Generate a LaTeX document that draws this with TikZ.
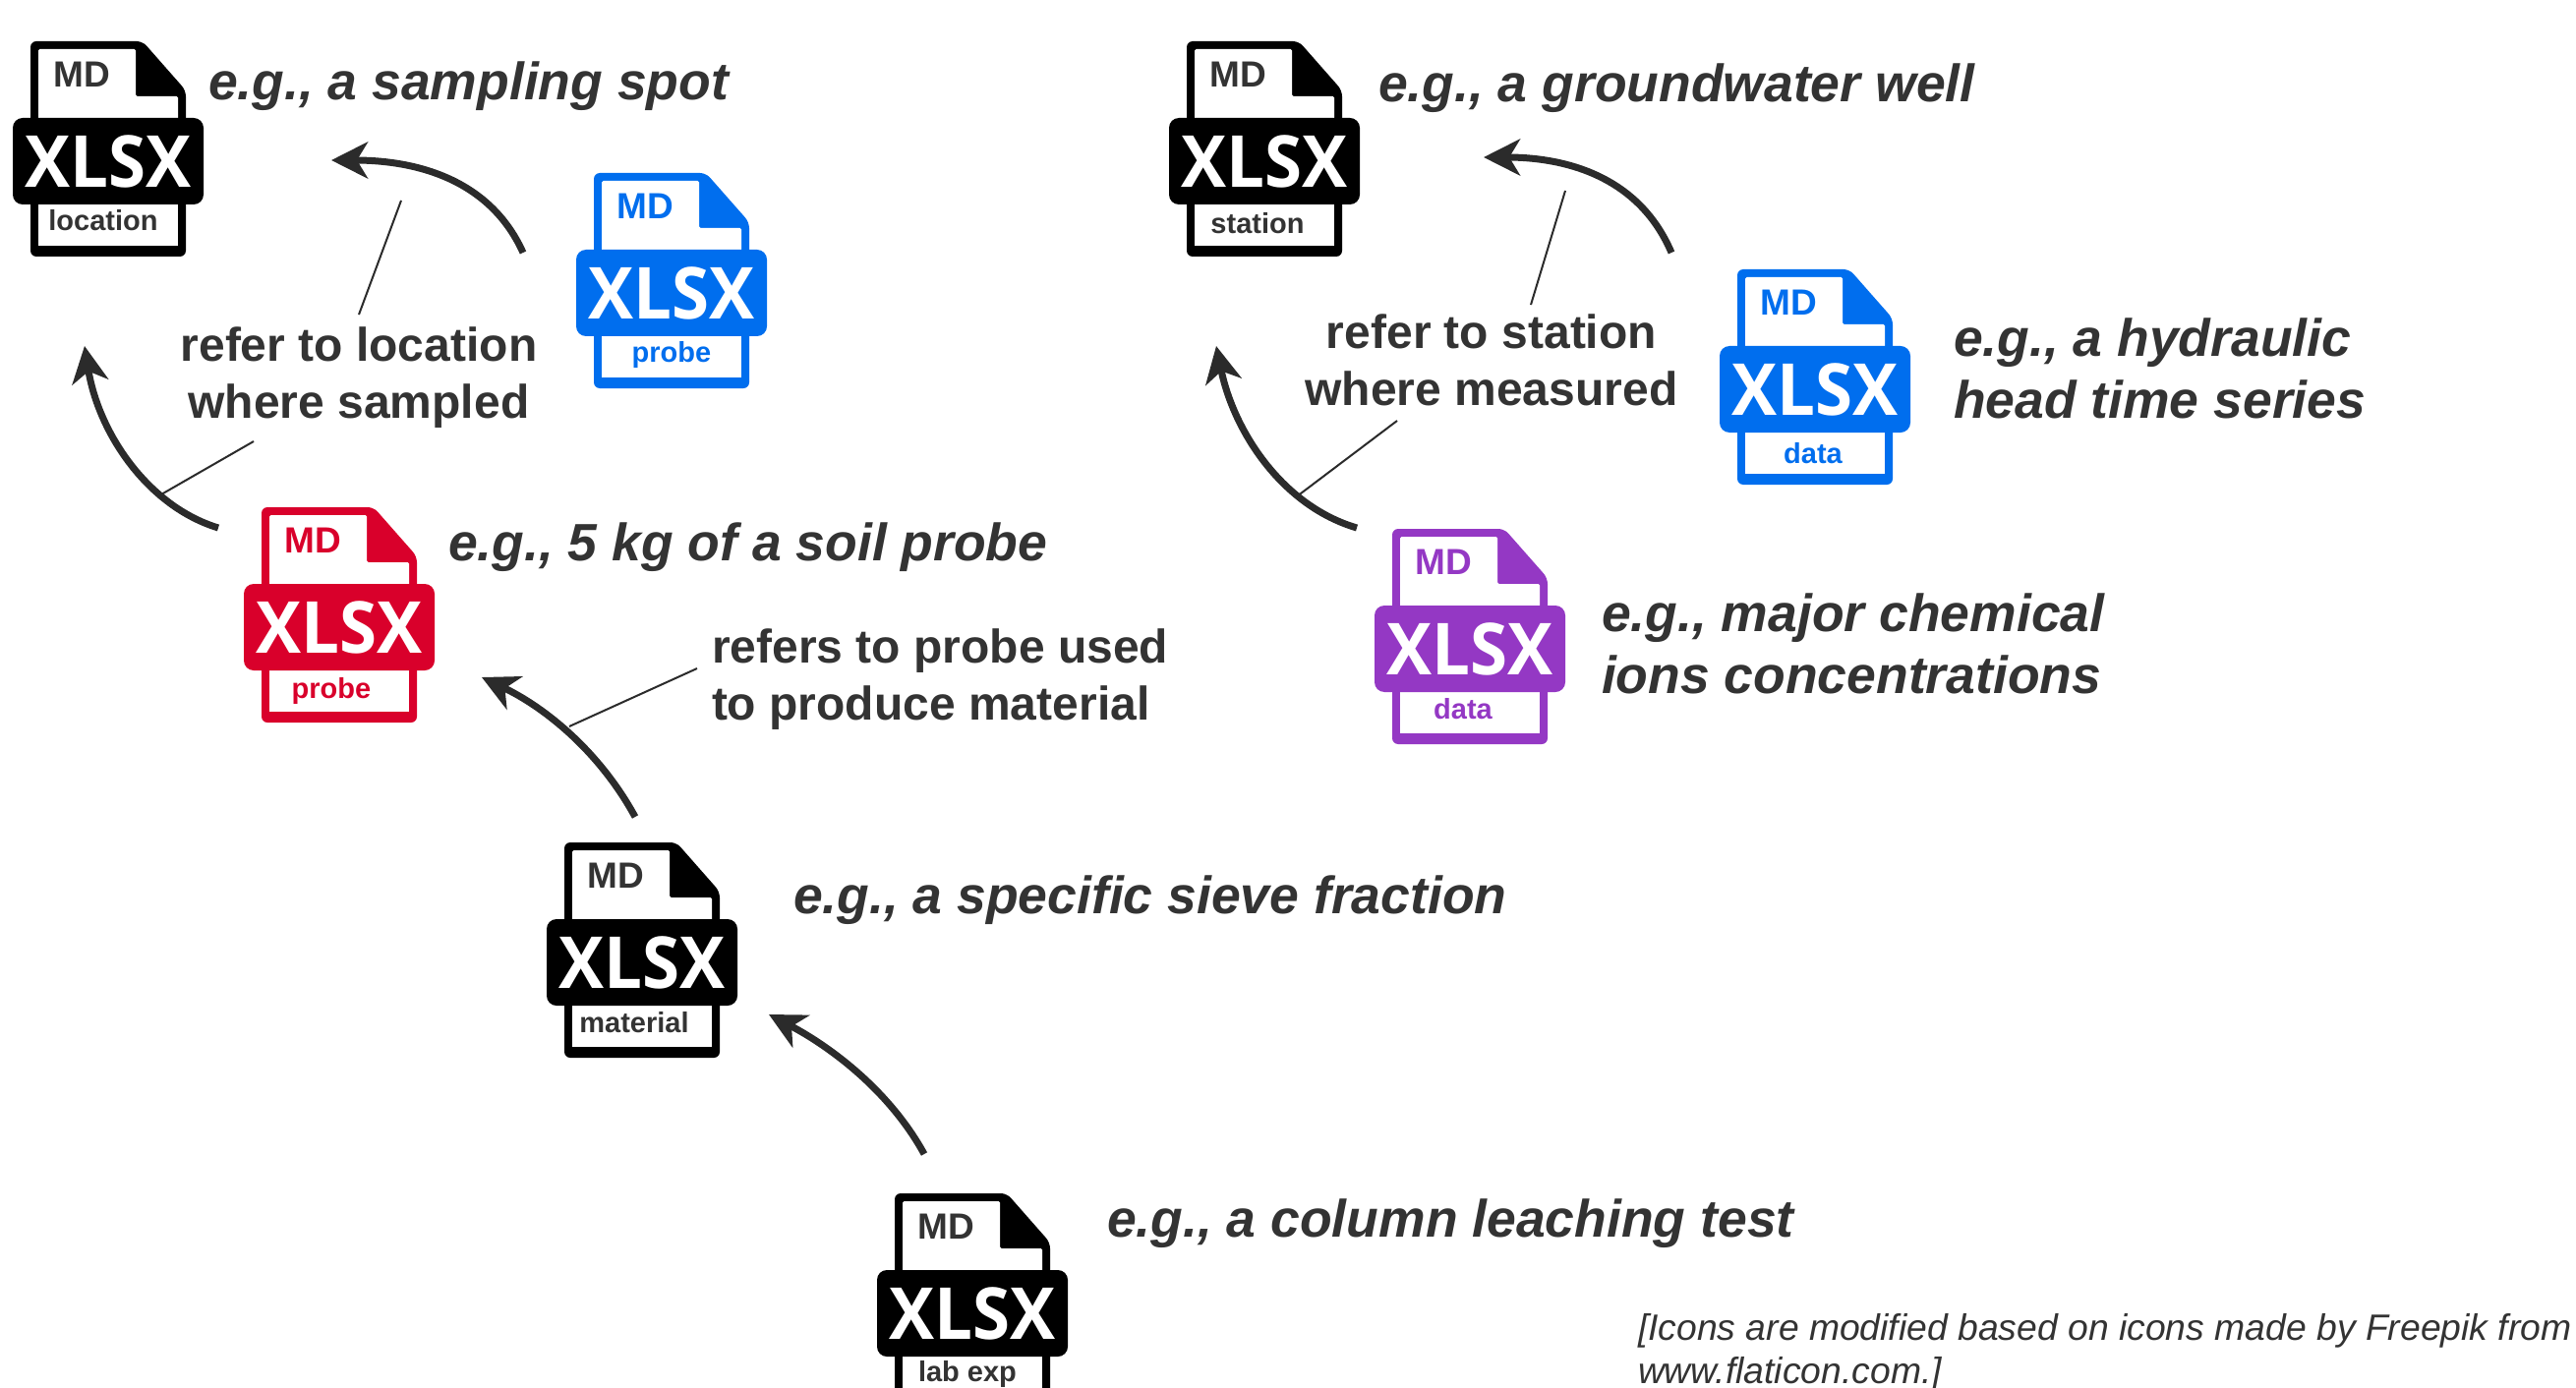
\documentclass[tikz,border=0pt]{standalone}
\usepackage{fontspec}
\setmainfont{Liberation Sans}
\newfontfamily\iconfont{Open Sans}
\usetikzlibrary{arrows.meta}
\definecolor{ink}{HTML}{333333}
\definecolor{arrowink}{HTML}{2B2B2B}
\definecolor{iconblue}{HTML}{006EEE}
\definecolor{iconred}{HTML}{D9002B}
\definecolor{iconpurple}{HTML}{9438C4}
\tikzset{
  every node/.style={inner sep=0pt,outer sep=0pt},
  refarrow/.style={draw=arrowink,line width=7pt,-{Stealth[length=37pt,width=37pt,inset=11pt]}},
  leader/.style={draw=arrowink,line width=2pt},
  example/.style={anchor=base west,align=left,text=ink,font=\fontsize{53.5}{63}\selectfont\bfseries\itshape},
  remark/.style={align=center,text=ink,font=\fontsize{48}{58}\selectfont\bfseries},
  remarkleft/.style={remark,align=left},
  source/.style={anchor=base west,align=left,text=ink,font=\fontsize{37.3}{44}\selectfont\itshape},
}
\newcommand{\fileicon}[7]{%
 \begin{scope}[shift={(#2,#3)}]
  \fill[#4,rounded corners=6pt] (18,0) -- (132,0) -- (176,50) -- (176,219) -- (18,219) -- cycle;
  \fill[white,rounded corners=1.5pt] (26,8) -- (125,8) -- (125,56) -- (168,56) -- (168,90) -- (26,90) -- cycle;
  \fill[white] (26,150) rectangle (168,208);
  \fill[#4,rounded corners=10pt] (0,78) rectangle (194,166);
  \node[text=#5,font=\fontsize{37}{37}\selectfont\bfseries] (#1-md) at (70,34) {MD};
  \node[text=white,font=\fontsize{73}{73}\selectfont\iconfont\bfseries] (#1-xlsx) at (97,122) {\scalebox{.945}[1]{XLSX}};
  \node[text=#5,font=\fontsize{29}{29}\selectfont\bfseries] (#1-label) at #7 {#6};
 \end{scope}}
\begin{document}
\begin{tikzpicture}[x=1pt,y=-1pt]
\useasboundingbox (0,0) rectangle (2620,1412);
\fileicon{location}{13}{42}{black}{ink}{location}{(92,182)}
\fileicon{sampleprobe}{586}{176}{iconblue}{iconblue}{probe}{(97,185)}
\fileicon{redprobe}{248}{516}{iconred}{iconred}{probe}{(89,187)}
\fileicon{material}{556}{857}{black}{ink}{material}{(89,183)}
\fileicon{labexp}{892}{1214}{black}{ink}{lab exp}{(92,184)}
\fileicon{station}{1189}{42}{black}{ink}{station}{(90,185)}
\fileicon{datablue}{1749}{274}{iconblue}{iconblue}{data}{(95,187)}
\fileicon{datapurple}{1398}{538}{iconpurple}{iconpurple}{data}{(90,183)}

\node[example] (tlocation) at (212,102) {e.g., a sampling spot};
\node[example] (tstation) at (1402,104) {e.g., a groundwater well};
\node[example] (thead) at (1987,425) {e.g., a hydraulic\\head time series};
\node[example] (tsoil) at (456,570) {e.g., 5 kg of a soil probe};
\node[example] (tions) at (1629,705) {e.g., major chemical\\ions concentrations};
\node[example] (tsieve) at (807,929) {e.g., a specific sieve fraction};
\node[example] (tcolumn) at (1126,1258) {e.g., a column leaching test};
\node[source] (tsource) at (1666,1407) {[Icons are modified based on icons made by Freepik from\\www.flaticon.com.]};
\node[remark] (rlocation) at (365,384) {refer to location\\where sampled};
\node[remark] (rstation) at (1517,366) {refer to station\\where measured};
\node[remarkleft,anchor=west] (rprobe) at (724,691) {refers to probe used\\to produce material};

\coordinate (a1s) at (532,257); \coordinate (a1e) at (337,163);
\coordinate (a2s) at (222,537); \coordinate (a2e) at (86,352);
\coordinate (a3s) at (646,831); \coordinate (a3e) at (490,689);
\coordinate (a4s) at (940,1174); \coordinate (a4e) at (782,1032);
\coordinate (a5s) at (1700,257); \coordinate (a5e) at (1509,160);
\coordinate (a6s) at (1380,537); \coordinate (a6e) at (1237,352);
\draw[refarrow] (a1s) .. controls (495,175) and (410,163) .. (a1e);
\draw[refarrow] (a2s) .. controls (150,515) and (100,440) .. (a2e);
\draw[refarrow] (a3s) .. controls (610,765) and (555,720) .. (a3e);
\draw[refarrow] (a4s) .. controls (905,1110) and (845,1065) .. (a4e);
\draw[refarrow] (a5s) .. controls (1665,175) and (1585,160) .. (a5e);
\draw[refarrow] (a6s) .. controls (1305,515) and (1255,440) .. (a6e);

\coordinate (l1a) at (408,204); \coordinate (l1b) at (365,320);
\coordinate (l2a) at (258,449); \coordinate (l2b) at (164,503);
\coordinate (l3a) at (709,680); \coordinate (l3b) at (579,739);
\coordinate (l5a) at (1592,194); \coordinate (l5b) at (1557,310);
\coordinate (l6a) at (1421,428); \coordinate (l6b) at (1319,505);
\draw[leader] (l1a) -- (l1b);
\draw[leader] (l2a) -- (l2b);
\draw[leader] (l3a) -- (l3b);
\draw[leader] (l5a) -- (l5b);
\draw[leader] (l6a) -- (l6b);
\end{tikzpicture}
\end{document}
